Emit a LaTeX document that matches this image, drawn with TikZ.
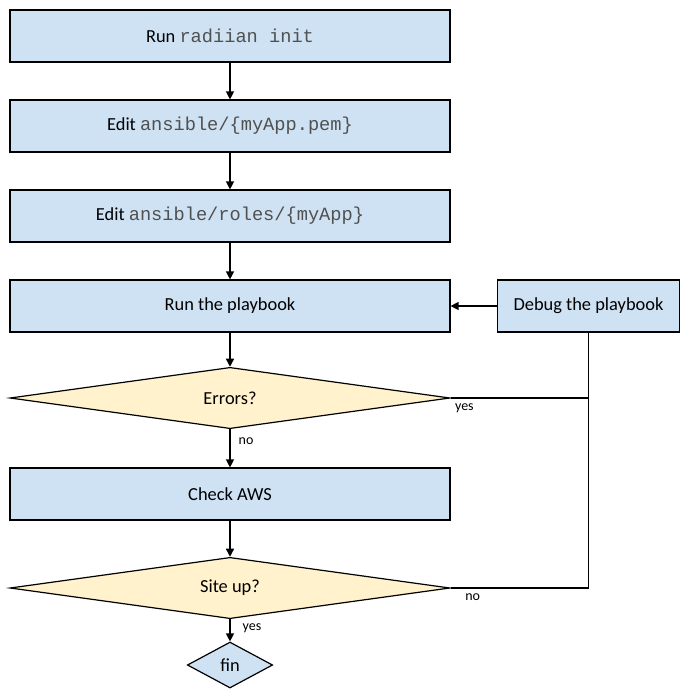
\documentclass[tikz,border=0pt]{standalone}
\usepackage{fontspec}
\setmainfont{Carlito}
\setmonofont{Liberation Mono}
\usetikzlibrary{shapes.geometric,arrows.meta}
\definecolor{boxblue}{HTML}{CFE2F3}
\definecolor{askyellow}{HTML}{FFF2CC}
\definecolor{codegray}{HTML}{505050}
\newcommand{\code}[1]{{\ttfamily\fontsize{14}{16}\selectfont\color{codegray}#1}}
\begin{document}
\begin{tikzpicture}[x=0.75pt,y=-0.75pt,
  stepbox/.style={draw,fill=boxblue,line width=0.9pt,minimum width=330pt,minimum height=39pt,font=\fontsize{13.8}{16}\selectfont},
  askbox/.style={draw,diamond,shape aspect=7,fill=askyellow,line width=0.9pt,inner sep=0pt,minimum width=330pt,minimum height=46pt,font=\fontsize{13.8}{16}\selectfont},
  flow/.style={line width=1pt,-{Triangle[length=6pt,width=6pt]}},
  back/.style={line width=1pt},
  tag/.style={font=\fontsize{10.5}{12}\selectfont,inner sep=1pt}]
\useasboundingbox (0,0) rectangle (694,694);
\node[stepbox] (init) at (230,36) {Run \code{radiian init}};
\node[stepbox] (pem) at (230,126) {Edit \code{ansible/\{myApp.pem\}}};
\node[stepbox] (roles) at (230,216) {Edit \code{ansible/roles/\{myApp\}}};
\node[stepbox] (play) at (230,306) {Run the playbook};
\node[stepbox,minimum width=137pt] (debug) at (588.5,306) {Debug the playbook};
\node[askbox] (errors) at (230,398) {Errors?};
\node[stepbox] (aws) at (230,494) {Check AWS};
\node[askbox] (siteup) at (230,588) {Site up?};
\node[askbox,shape aspect=2,fill=boxblue,minimum width=64pt,minimum height=34.5pt] (fin) at (230,665) {fin};
\coordinate (errjoin) at (errors.east -| debug.south);
\draw[flow] (init) -- (pem);
\draw[flow] (pem) -- (roles);
\draw[flow] (roles) -- (play);
\draw[flow] (play) -- (errors);
\draw[flow] (errors) -- node[tag,pos=0.3,right=5pt] {no} (aws);
\draw[flow] (aws) -- (siteup);
\draw[flow] (siteup) -- node[tag,pos=0.4,right=8pt] {yes} (fin);
\draw[back] (errors.east) -- node[tag,pos=0.1,below=3pt] {yes} (errjoin);
\draw[back] (siteup.east) -| node[tag,pos=0.08,below=3pt] {no} (debug.south);
\draw[flow] (debug) -- (play);
\end{tikzpicture}
\end{document}
